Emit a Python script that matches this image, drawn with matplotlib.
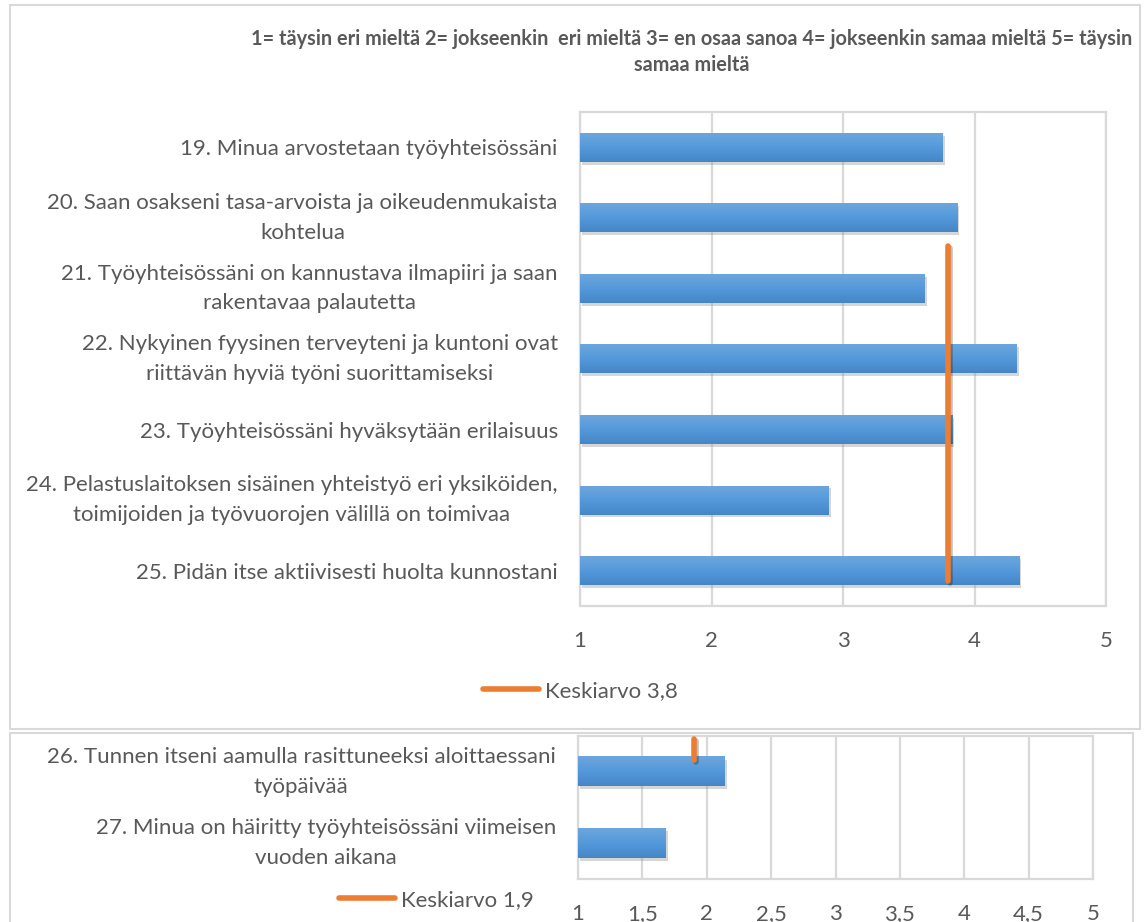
import numpy as np
import matplotlib
matplotlib.use("Agg")
import matplotlib.pyplot as plt
import matplotlib.patheffects as pe
from matplotlib.colors import LinearSegmentedColormap
from matplotlib.lines import Line2D
from matplotlib.patches import Rectangle

plt.rcParams["font.family"] = ["Lato", "DejaVu Sans"]

TEXT = "#595959"
GRID = "#D9D9D9"
BLUE = "#5B9BD5"
ORANGE = "#ED7D31"
FS = 16

title = ("1= täysin eri mieltä 2= jokseenkin  eri mieltä 3= en osaa sanoa "
         "4= jokseenkin samaa mieltä 5= täysin\nsamaa mieltä")

# upper chart: statements 19-25
top_labels = [
    "19. Minua arvostetaan työyhteisössäni",
    "20. Saan osakseni tasa-arvoista ja oikeudenmukaista\nkohtelua",
    "21. Työyhteisössäni on kannustava ilmapiiri ja saan\nrakentavaa palautetta",
    "22. Nykyinen fyysinen terveyteni ja kuntoni ovat\nriittävän hyviä työni suorittamiseksi",
    "23. Työyhteisössäni hyväksytään erilaisuus",
    "24. Pelastuslaitoksen sisäinen yhteistyö eri yksiköiden,\ntoimijoiden ja työvuorojen välillä on toimivaa",
    "25. Pidän itse aktiivisesti huolta kunnostani",
]
top_values = [3.76, 3.87, 3.62, 4.32, 3.83, 2.89, 4.34]
top_mean = 3.8
top_mean_span = [1.4, 6.15]
top_ticks = [1, 2, 3, 4, 5]

# lower chart: statements 26-27
bottom_labels = [
    "26. Tunnen itseni aamulla rasittuneeksi aloittaessani\ntyöpäivää",
    "27. Minua on häiritty työyhteisössäni viimeisen\nvuoden aikana",
]
bottom_values = [2.14, 1.68]
bottom_mean = 1.9
bottom_mean_span = [-0.46, -0.16]
bottom_ticks = [1, 1.5, 2, 2.5, 3, 3.5, 4, 4.5, 5]

bar_cmap = LinearSegmentedColormap.from_list(
    "bar", ["#6DA6DD", "#5499DB", "#4586C6"])
shadow = [pe.SimplePatchShadow(offset=(1.5, -2), shadow_rgbFace="#8C8C8C",
                               alpha=0.35), pe.Normal()]


def draw_bars(ax, labels, values, mean, mean_span, ticks):
    y = np.arange(len(labels))
    height = 0.41
    bars = ax.barh(y, np.array(values) - 1, left=1, height=height,
                   color=BLUE, zorder=2)
    grad = np.linspace(0, 1, 64).reshape(-1, 1)
    for b, v in zip(y, values):
        ax.imshow(grad, extent=[1, v, b + height / 2, b - height / 2],
                  cmap=bar_cmap, aspect="auto", zorder=3,
                  interpolation="bilinear")
    for p in bars:
        p.set_path_effects(shadow)

    ax.plot([mean, mean], mean_span, color=ORANGE, lw=4,
            solid_capstyle="round", zorder=4,
            path_effects=[pe.SimpleLineShadow(offset=(1.5, -1.5), alpha=0.25),
                          pe.Normal()])

    ax.set_xlim(ticks[0], ticks[-1])
    ax.set_ylim(len(labels) - 0.5, -0.5)
    ax.set_xticks(ticks)
    ax.set_xticklabels([f"{t:g}".replace(".", ",") for t in ticks])
    ax.set_yticks(y)
    ax.set_yticklabels(labels, multialignment="center", linespacing=1.6)
    for t, lab in zip(ax.get_yticklabels(), labels):
        if "\n" in lab:
            t.set_va("center")
    ax.tick_params(axis="y", length=0, pad=16, labelsize=FS,
                   labelcolor=TEXT)
    ax.tick_params(axis="x", length=0, pad=18, labelsize=FS,
                   labelcolor=TEXT)
    ax.grid(axis="x", color=GRID, lw=1.6, zorder=0)
    ax.set_axisbelow(True)
    for s in ax.spines.values():
        s.set_color(GRID)
        s.set_linewidth(1.6)


def add_mean_legend(ax, mean, x0, y0):
    ax.legend(handles=[Line2D([], [], color=ORANGE, lw=4,
                              solid_capstyle="round")],
              labels=[f"Keskiarvo {mean:g}".replace(".", ",")],
              loc="center left", bbox_to_anchor=(x0 / 1144, 1 - y0 / 922),
              bbox_transform=ax.figure.transFigure, frameon=False,
              fontsize=FS, labelcolor=TEXT, handlelength=2.5,
              handletextpad=0.3, borderpad=0, borderaxespad=0)


fig = plt.figure(figsize=(11.44, 9.22), dpi=100)

# chart frames
fig.patches.append(Rectangle((10 / 1144, 1 - 729 / 922), 1130 / 1144,
                             724 / 922, transform=fig.transFigure,
                             fill=False, ec="#D9D9D9", lw=1.5))
fig.patches.append(Rectangle((10 / 1144, -0.01), 1123 / 1144,
                             1 - 733 / 922 + 0.01, transform=fig.transFigure,
                             fill=False, ec="#D9D9D9", lw=1.5))

ax1 = fig.add_axes([580 / 1144, 1 - 606 / 922, 526 / 1144, 494 / 922])
draw_bars(ax1, top_labels, top_values, top_mean, top_mean_span, top_ticks)
fig.text(692 / 1144, 1 - 52 / 922, title, ha="center", va="center",
         fontsize=14.3, fontweight="bold", color=TEXT, linespacing=1.4)
add_mean_legend(ax1, top_mean, 483, 691)

ax2 = fig.add_axes([578 / 1144, 1 - 879 / 922, 515 / 1144, 143 / 922])
draw_bars(ax2, bottom_labels, bottom_values, bottom_mean, bottom_mean_span,
          bottom_ticks)
add_mean_legend(ax2, bottom_mean, 339, 900)

fig.savefig("out.png", dpi=100, facecolor="white")
